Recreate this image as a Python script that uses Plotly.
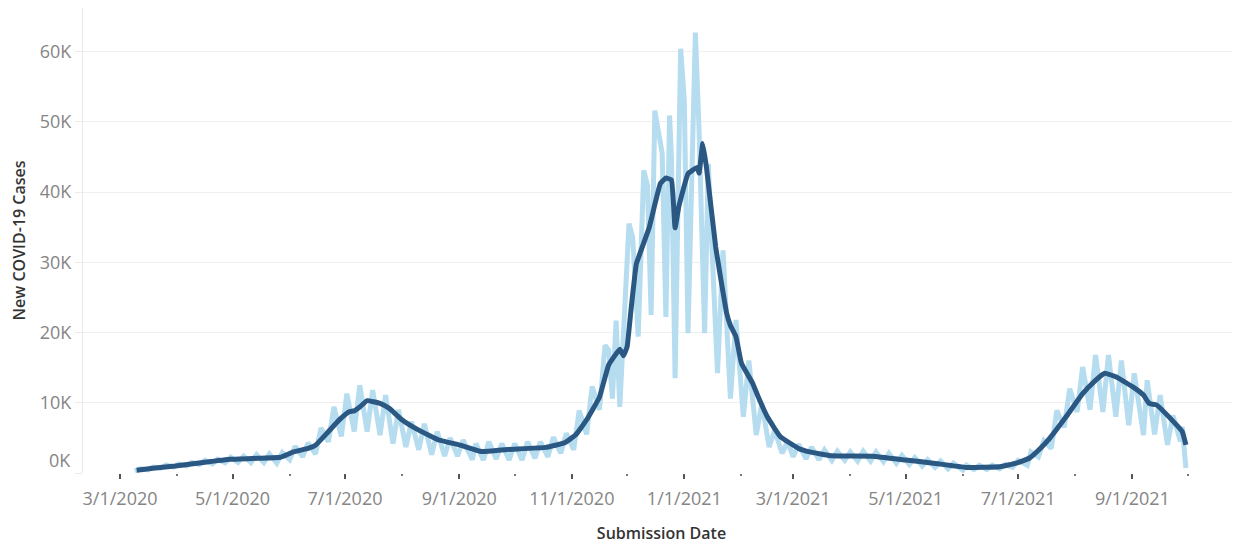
import plotly.graph_objects as go

# 7-day average of new cases (dark line)
avg_dates = [
    "2020-03-10", "2020-03-20", "2020-03-31", "2020-04-15", "2020-04-30", "2020-05-15",
    "2020-05-27", "2020-06-03", "2020-06-11", "2020-06-15", "2020-06-21", "2020-06-28",
    "2020-07-03", "2020-07-06", "2020-07-09", "2020-07-13", "2020-07-20", "2020-07-25",
    "2020-08-01", "2020-08-10", "2020-08-21", "2020-09-01", "2020-09-13", "2020-09-27",
    "2020-10-18", "2020-10-28", "2020-11-03", "2020-11-09", "2020-11-16", "2020-11-21",
    "2020-11-27", "2020-11-29", "2020-12-01", "2020-12-03", "2020-12-06", "2020-12-08",
    "2020-12-13", "2020-12-19", "2020-12-22", "2020-12-25", "2020-12-27", "2020-12-29",
    "2021-01-03", "2021-01-08", "2021-01-09", "2021-01-11", "2021-01-13", "2021-01-18",
    "2021-01-24", "2021-01-26", "2021-01-29", "2021-02-01", "2021-02-07", "2021-02-10",
    "2021-02-15", "2021-02-22", "2021-03-04", "2021-03-10", "2021-03-22", "2021-04-13",
    "2021-05-01", "2021-05-16", "2021-06-03", "2021-06-21", "2021-06-30", "2021-07-07",
    "2021-07-13", "2021-07-18", "2021-07-27", "2021-08-05", "2021-08-12", "2021-08-17",
    "2021-08-23", "2021-09-01", "2021-09-07", "2021-09-10", "2021-09-14", "2021-09-24",
    "2021-09-28", "2021-09-30",
]
avg_cases = [
    400, 700, 1000, 1500, 1950, 2100,
    2250, 3000, 3500, 3950, 5600, 7600,
    8700, 8850, 9400, 10300, 9900, 9200,
    7550, 6100, 4700, 4000, 3050, 3350,
    3650, 4300, 5400, 7550, 10800, 15400,
    17600, 16700, 18000, 23000, 29800, 31300,
    35000, 41200, 42000, 41700, 34900, 37900,
    42600, 43500, 42700, 46900, 43500, 32200,
    22700, 21000, 19400, 15600, 12800, 10900,
    8000, 5200, 3500, 3000, 2450, 2400,
    1850, 1400, 800, 900, 1400, 2100,
    3500, 4900, 8000, 11300, 13200, 14200,
    13700, 12300, 11100, 9900, 9700, 7100,
    5900, 4000,
]

# Daily new cases (light line), read as weekly lows, highs and shoulders
daily_dates = [
    "2020-03-09", "2020-03-12", "2020-03-16", "2020-03-19", "2020-03-23", "2020-03-26",
    "2020-03-30", "2020-04-02", "2020-04-06", "2020-04-09", "2020-04-13", "2020-04-16",
    "2020-04-20", "2020-04-23", "2020-04-27", "2020-04-30", "2020-05-04", "2020-05-07",
    "2020-05-11", "2020-05-14", "2020-05-18", "2020-05-21", "2020-05-25", "2020-05-28",
    "2020-06-01", "2020-06-04", "2020-06-08", "2020-06-11", "2020-06-15", "2020-06-18",
    "2020-06-22", "2020-06-25", "2020-06-29", "2020-07-02", "2020-07-06", "2020-07-09",
    "2020-07-13", "2020-07-16", "2020-07-20", "2020-07-23", "2020-07-27", "2020-07-30",
    "2020-08-03", "2020-08-06", "2020-08-10", "2020-08-13", "2020-08-17", "2020-08-20",
    "2020-08-24", "2020-08-27", "2020-08-31", "2020-09-03", "2020-09-08", "2020-09-10",
    "2020-09-14", "2020-09-17", "2020-09-21", "2020-09-24", "2020-09-28", "2020-10-01",
    "2020-10-05", "2020-10-08", "2020-10-12", "2020-10-15", "2020-10-19", "2020-10-22",
    "2020-10-26", "2020-10-29", "2020-11-02", "2020-11-05", "2020-11-09", "2020-11-12",
    "2020-11-16", "2020-11-19", "2020-11-21", "2020-11-23", "2020-11-25", "2020-11-27",
    "2020-12-02", "2020-12-04",
    "2020-12-07", "2020-12-10", "2020-12-12", "2020-12-14", "2020-12-16", "2020-12-20",
    "2020-12-22", "2020-12-24", "2020-12-25", "2020-12-27", "2020-12-30", "2021-01-01",
    "2021-01-03", "2021-01-07", "2021-01-09",
    "2021-01-12", "2021-01-14", "2021-01-19", "2021-01-22", "2021-01-26", "2021-01-29",
    "2021-02-02", "2021-02-05", "2021-02-09", "2021-02-12", "2021-02-16", "2021-02-19",
    "2021-02-23", "2021-02-26", "2021-03-01", "2021-03-04", "2021-03-08", "2021-03-11",
    "2021-03-15", "2021-03-18", "2021-03-22", "2021-03-25", "2021-03-29", "2021-04-01",
    "2021-04-05", "2021-04-08", "2021-04-12", "2021-04-15", "2021-04-19", "2021-04-22",
    "2021-04-26", "2021-04-29", "2021-05-03", "2021-05-06", "2021-05-10", "2021-05-13",
    "2021-05-17", "2021-05-20", "2021-05-24", "2021-05-27", "2021-06-01", "2021-06-03",
    "2021-06-07", "2021-06-10", "2021-06-14", "2021-06-17", "2021-06-21", "2021-06-24",
    "2021-06-28", "2021-07-01", "2021-07-06", "2021-07-08", "2021-07-12", "2021-07-15",
    "2021-07-19", "2021-07-22", "2021-07-26", "2021-07-29", "2021-08-02", "2021-08-05",
    "2021-08-09", "2021-08-12", "2021-08-16", "2021-08-19", "2021-08-23", "2021-08-26",
    "2021-08-30", "2021-09-02", "2021-09-07", "2021-09-09", "2021-09-13", "2021-09-16",
    "2021-09-20", "2021-09-23", "2021-09-27", "2021-09-28", "2021-09-30",
]
daily_cases = [
    300, 600, 450, 850, 700, 1150,
    850, 1300, 1000, 1500, 1200, 1800,
    1300, 1950, 1450, 2250, 1500, 2400,
    1500, 2600, 1500, 2700, 1400, 2900,
    1900, 3800, 2300, 4300, 2700, 6400,
    4450, 9400, 5200, 11300, 5900, 12500,
    5900, 11800, 5400, 11100, 4200, 9000,
    3700, 7300, 3300, 7000, 2600, 5900,
    2400, 5000, 2400, 4700, 1900, 4200,
    1850, 4450, 2000, 4200, 1850, 4200,
    1850, 4450, 2100, 4450, 2300, 5100,
    2800, 5650, 3300, 8900, 5500, 12300,
    9000, 18200, 17500, 10600, 21700, 9400,
    35500, 33500,
    19400, 43100, 41000, 22500, 51600, 45500,
    22200, 50900, 45000, 13500, 60400, 53000,
    19900, 62700, 48800,
    19900, 44000, 14200, 31700, 10600, 21800,
    8000, 16000, 5400, 9900, 3700, 6100,
    2800, 4500, 2300, 4100, 2000, 3700,
    1900, 3300, 1800, 3100, 1800, 3000,
    1700, 3100, 1700, 3000, 1600, 2800,
    1400, 2500, 1200, 2200, 1000, 1900,
    800, 1700, 600, 1400, 400, 1100,
    500, 1100, 500, 1100, 600, 1200,
    800, 1800, 1100, 3000, 2300, 4600,
    3500, 8900, 6500, 12000, 8700, 15100,
    9000, 16800, 8700, 16800, 8000, 16000,
    6800, 14200, 5400, 13200, 5500, 11100,
    4000, 8200, 4500, 6600, 700,
]

y_tick_values = [0, 10000, 20000, 30000, 40000, 50000, 60000]
y_tick_labels = ["", "10K", "20K", "30K", "40K", "50K", "60K"]
zero_label = "0K"

x_tick_dates = ["2020-03-01", "2020-05-01", "2020-07-01", "2020-09-01", "2020-11-01",
                "2021-01-01", "2021-03-01", "2021-05-01", "2021-07-01", "2021-09-01"]
x_tick_labels = ["3/1/2020", "5/1/2020", "7/1/2020", "9/1/2020", "11/1/2020",
                 "1/1/2021", "3/1/2021", "5/1/2021", "7/1/2021", "9/1/2021"]
x_minor_dates = ["2020-04-01", "2020-06-01", "2020-08-01", "2020-10-01", "2020-12-01",
                 "2021-02-01", "2021-04-01", "2021-06-01", "2021-08-01", "2021-10-01"]

FONT = "Open Sans"

fig = go.Figure()
fig.add_trace(go.Scatter(
    x=daily_dates, y=daily_cases, mode="lines",
    line=dict(color="#b6dcf0", width=5),
    hoverinfo="skip",
))
fig.add_trace(go.Scatter(
    x=avg_dates, y=avg_cases, mode="lines",
    line=dict(color="#2b5883", width=5, shape="spline", smoothing=0.3),
    hoverinfo="skip",
))

# page body has an 8px default margin, so the figure is sized to fill the rest
fig.update_layout(
    width=1232, height=538,
    margin=dict(l=75, r=0, t=0, b=73),
    paper_bgcolor="white", plot_bgcolor="white",
    showlegend=False,
    font=dict(family=FONT),
    xaxis=dict(
        type="date", automargin=False,
        range=["2020-02-09 22:00", "2021-10-29 08:00"],
        tickmode="array", tickvals=x_tick_dates, ticktext=x_tick_labels,
        ticks="outside", ticklen=5, tickwidth=2, tickcolor="#555555",
        ticklabelstandoff=4,
        tickfont=dict(family=FONT, size=18, color="#858585"),
        showgrid=False, zeroline=False, showline=False,
        minor=dict(tickmode="array", tickvals=x_minor_dates, ticks="outside",
                   ticklen=2, tickwidth=2, tickcolor="#777777", showgrid=False),
        title=dict(text="Submission Date", standoff=19,
                   font=dict(family=FONT, size=16, color="#333333", weight=600)),
        fixedrange=True,
    ),
    yaxis=dict(
        automargin=False,
        range=[0, 66200],
        tickmode="array", tickvals=y_tick_values, ticktext=y_tick_labels,
        ticks="outside", ticklen=7, tickwidth=1, tickcolor="#ececec",
        tickfont=dict(family=FONT, size=18, color="#858585"),
        showgrid=True, gridcolor="#efefef", gridwidth=1,
        zeroline=False, showline=True, linecolor="#e8e8e8", linewidth=1,
        title=dict(text="New COVID-19 Cases", standoff=12,
                   font=dict(family=FONT, size=16, color="#333333", weight=600)),
        fixedrange=True,
    ),
    annotations=[dict(
        text=zero_label, xref="paper", yref="paper", x=0, y=0.028,
        xanchor="right", yanchor="middle", xshift=-10, showarrow=False,
        font=dict(family=FONT, size=18, color="#858585"),
    )],
)

fig.write_html("out.html", config={"displayModeBar": False})
